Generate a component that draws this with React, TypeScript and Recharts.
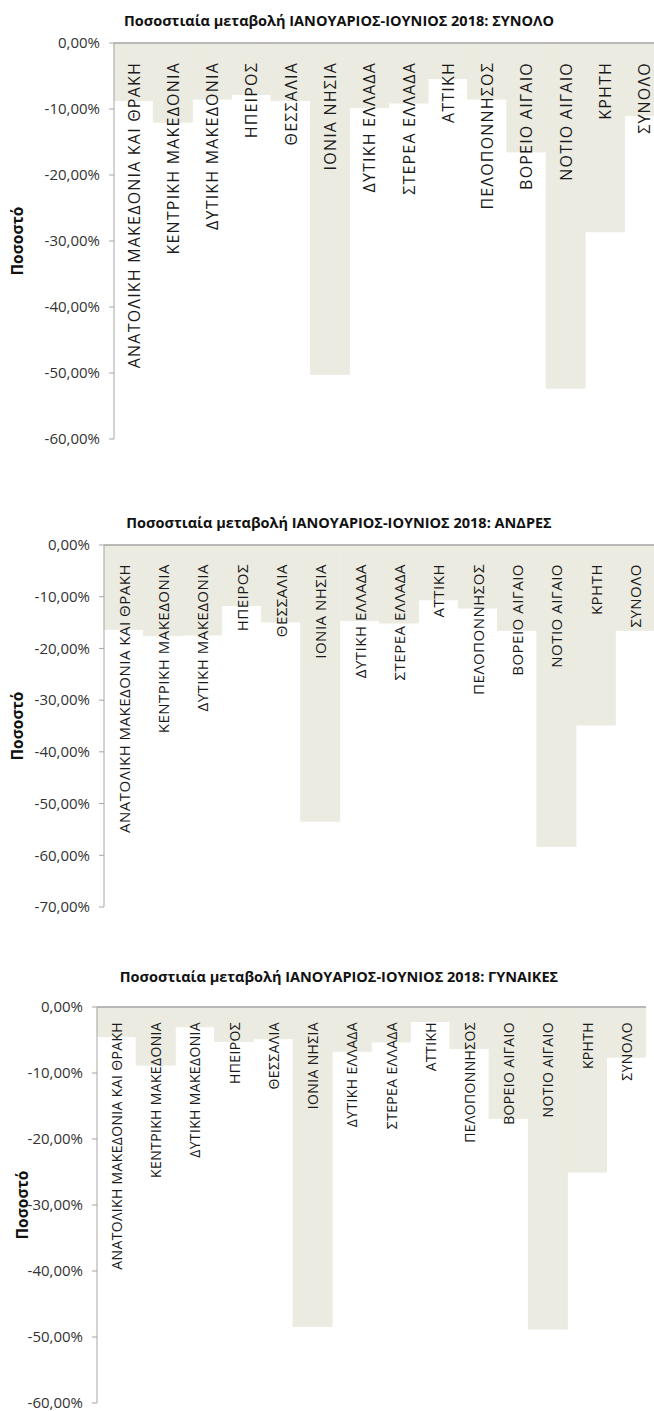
import React from 'react';
import { BarChart, Bar, XAxis, YAxis, Label, LabelList, ReferenceLine } from 'recharts';

const categories = [
  'ΑΝΑΤΟΛΙΚΗ ΜΑΚΕΔΟΝΙΑ ΚΑΙ ΘΡΑΚΗ',
  'ΚΕΝΤΡΙΚΗ ΜΑΚΕΔΟΝΙΑ',
  'ΔΥΤΙΚΗ ΜΑΚΕΔΟΝΙΑ',
  'ΗΠΕΙΡΟΣ',
  'ΘΕΣΣΑΛΙΑ',
  'ΙΟΝΙΑ ΝΗΣΙΑ',
  'ΔΥΤΙΚΗ ΕΛΛΑΔΑ',
  'ΣΤΕΡΕΑ ΕΛΛΑΔΑ',
  'ΑΤΤΙΚΗ',
  'ΠΕΛΟΠΟΝΝΗΣΟΣ',
  'ΒΟΡΕΙΟ ΑΙΓΑΙΟ',
  'ΝΟΤΙΟ ΑΙΓΑΙΟ',
  'ΚΡΗΤΗ',
  'ΣΥΝΟΛΟ',
];

// % change Jan-Jun 2018
const totalValues = [-8.7, -12.0, -8.5, -7.8, -8.7, -50.2, -9.8, -9.1, -5.4, -8.5, -16.5, -52.3, -28.6, -11.0];
const menValues = [-16.3, -17.5, -17.4, -11.7, -14.9, -53.4, -14.6, -15.1, -10.6, -12.2, -16.5, -58.3, -34.8, -16.5];
const womenValues = [-4.5, -8.8, -3.0, -5.2, -4.8, -48.4, -6.7, -5.3, -2.2, -6.3, -16.9, -48.8, -25.0, -7.6];

const ticks60 = [0, -10, -20, -30, -40, -50, -60];
const ticks70 = [0, -10, -20, -30, -40, -50, -60, -70];

const titles = [
  'Ποσοστιαία μεταβολή ΙΑΝΟΥΑΡΙΟΣ-ΙΟΥΝΙΟΣ 2018: ΣΥΝΟΛΟ',
  'Ποσοστιαία μεταβολή ΙΑΝΟΥΑΡΙΟΣ-ΙΟΥΝΙΟΣ 2018: ΑΝΔΡΕΣ',
  'Ποσοστιαία μεταβολή ΙΑΝΟΥΑΡΙΟΣ-ΙΟΥΝΙΟΣ 2018: ΓΥΝΑΙΚΕΣ',
];
const yLabel = 'Ποσοστό';

const FONT = '"Open Sans", "Noto Sans", sans-serif';
const BAR = '#ecebe1';
const AXIS = '#a6a6a6';

const fmt = (v: number) => v.toFixed(2).replace('.', ',') + '%';

interface PanelProps {
  title: string;
  values: number[];
  ticks: number[];
  top: number;
  titleY: number;
  zeroY: number;
  bottomY: number;
  axisX: number;
  plotRight: number;
  labelSize: number;
  labelSpacing: number;
  labelGap: number;
  yLabelX: number;
}

const Panel: React.FC<PanelProps> = (p) => {
  const data = categories.map((name, i) => ({ name, value: p.values[i] }));
  const min = p.ticks[p.ticks.length - 1];

  // category name written upward inside each bar, starting just under the zero line
  const renderCat = (props: any) => {
    const { x, y, width, height, value } = props;
    const cx = Number(x) + Number(width) / 2;
    const zero = Math.min(Number(y), Number(y) + Number(height));
    return (
      <text
        transform={`translate(${cx},${zero + p.labelGap}) rotate(-90)`}
        textAnchor="end"
        dominantBaseline="central"
        fontSize={p.labelSize}
        letterSpacing={p.labelSpacing}
        fontFamily={FONT}
        fill="#1a1a1a"
      >
        {value}
      </text>
    );
  };

  return (
    <>
      <div
        style={{
          position: 'absolute',
          left: 0,
          width: 678,
          top: p.titleY - 10,
          height: 20,
          lineHeight: '20px',
          textAlign: 'center',
          fontFamily: FONT,
          fontWeight: 700,
          fontSize: 14.5,
          color: '#111',
        }}
      >
        {p.title}
      </div>
      <div style={{ position: 'absolute', left: 0, top: p.top }}>
        <BarChart
          width={p.plotRight + 2}
          height={p.bottomY - p.top + 10}
          data={data}
          margin={{ top: p.zeroY - p.top, right: 2, bottom: 10, left: 0 }}
          barCategoryGap={0}
          barGap={0}
        >
          <XAxis dataKey="name" hide />
          <YAxis
            type="number"
            domain={[min, 0]}
            ticks={p.ticks}
            interval={0}
            width={p.axisX}
            stroke={AXIS}
            tickSize={5}
            tickMargin={9}
            tickFormatter={fmt}
            tick={{ fontSize: 15, fill: '#333', fontFamily: FONT }}
          >
            <Label
              content={({ viewBox }: any) => {
                const cy = viewBox.y + viewBox.height / 2;
                return (
                  <text
                    transform={`translate(${p.yLabelX},${cy}) rotate(-90)`}
                    textAnchor="middle"
                    dominantBaseline="central"
                    fontSize={15.5}
                    fontWeight={700}
                    fontFamily={FONT}
                    fill="#111"
                  >
                    {yLabel}
                  </text>
                );
              }}
            />
          </YAxis>
          <Bar
            dataKey="value"
            fill={BAR}
            stroke={BAR}
            strokeWidth={1}
            isAnimationActive={false}
          >
            <LabelList dataKey="name" content={renderCat} />
          </Bar>
          <ReferenceLine y={0} stroke={AXIS} strokeWidth={1.5} />
        </BarChart>
      </div>
    </>
  );
};

export default function App() {
  return (
    <div
      style={{
        position: 'absolute',
        left: 0,
        top: 0,
        width: 654,
        height: 1411,
        overflow: 'hidden',
        background: '#fff',
      }}
    >
      <Panel
        title={titles[0]}
        values={totalValues}
        ticks={ticks60}
        top={30}
        titleY={21}
        zeroY={43}
        bottomY={439}
        axisX={114}
        plotRight={664}
        labelSize={16}
        labelSpacing={1.2}
        labelGap={19}
        yLabelX={17}
      />
      <Panel
        title={titles[1]}
        values={menValues}
        ticks={ticks70}
        top={535}
        titleY={523}
        zeroY={545}
        bottomY={907}
        axisX={104}
        plotRight={655}
        labelSize={15}
        labelSpacing={0.5}
        labelGap={19}
        yLabelX={17}
      />
      <Panel
        title={titles[2]}
        values={womenValues}
        ticks={ticks60}
        top={995}
        titleY={977}
        zeroY={1007}
        bottomY={1403}
        axisX={97}
        plotRight={646}
        labelSize={14}
        labelSpacing={0.35}
        labelGap={15}
        yLabelX={22}
      />
    </div>
  );
}
